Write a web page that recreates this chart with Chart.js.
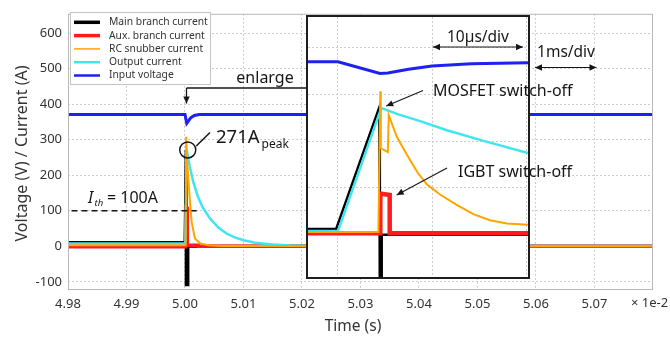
<!DOCTYPE html>
<html>
<head>
<meta charset="utf-8">
<script src="https://cdn.jsdelivr.net/npm/chart.js@4.4.1/dist/chart.umd.min.js"></script>
<style>
  html, body { margin: 0; padding: 0; background: #fff; }
  #wrap { position: relative; width: 670px; height: 337px; }
  #wrap canvas { position: absolute; left: 0; top: 0; }
</style>
</head>
<body>
<div id="wrap">
  <canvas id="mainChart" width="670" height="337"></canvas>
  <canvas id="zoomChart" width="670" height="337"></canvas>
</div>
<script>
// ---- main view: time axis in units of 1e-2 s ----
const mainTicksX = [4.98, 4.99, 5.00, 5.01, 5.02, 5.03, 5.04, 5.05, 5.06, 5.07];
const mainTicksY = [-100, 0, 100, 200, 300, 400, 500, 600];

const mainBlackT = [4.98, 5.0000, 5.0002, 5.0002, 5.0005, 5.0005, 5.08];
const mainBlackA = [11, 11, 271, -108, -108, 0, 0];

const mainRedT = [4.98, 5.0001, 5.0002, 5.0004, 5.0004, 5.0023, 5.0023, 5.08];
const mainRedA = [-1, -1, 110, 108, 3, 3, 0, 0];

const mainOrangeT = [4.98, 5.0001, 5.0002, 5.0004, 5.00074, 5.00114, 5.0017, 5.0026, 5.004, 5.006, 5.08];
const mainOrangeA = [3, 3, 308, 230, 150, 68, 22, 8, 3, 1, 1];

const mainCyanT = [4.98, 5.00005, 5.0003, 5.0008, 5.0014, 5.0022, 5.0030, 5.0043, 5.0057, 5.0071, 5.0085, 5.0100, 5.0120, 5.0150, 5.0180, 5.0210, 5.08];
const mainCyanA = [8, 8, 271, 225, 182, 140, 110, 78, 53, 36, 25, 17, 10, 5, 2, 1, 1];

const mainBlueT = [4.98, 5.0000, 5.0003, 5.0006, 5.0010, 5.0016, 5.0024, 5.08];
const mainBlueA = [371, 371, 346, 353, 362, 368, 371, 371];

// ---- enlarged view: time axis in microseconds ----
const zoomTicksX = [10, 20, 30];
const zoomTicksY = [0, 100, 200, 300, 400];

const zoomBlackT = [6.81, 9.8, 14.4, 14.45, 14.65, 14.65, 30.21];
const zoomBlackA = [12, 12, 273, -150, -150, 0, 0];

const zoomRedT = [6.81, 14.5, 14.5, 15.5, 15.5, 30.21];
const zoomRedA = [3, 3, 88, 85, 3, 3];

const zoomOrangeT = [6.81, 14.3, 14.5, 14.55, 15.3, 15.4, 16.24, 17.0, 17.66, 18.5, 19.44, 20.85, 22.63, 24.39, 26.17, 27.95, 30.21];
const zoomOrangeA = [6, 6, 307, 185, 177, 256, 210, 183, 160, 132, 108, 86, 64, 44, 31, 24, 21];

const zoomCyanT = [6.81, 10.0, 14.6, 16.5, 18.9, 21.5, 25.1, 30.21];
const zoomCyanA = [8, 8, 271, 257, 242, 224, 203, 175];

const zoomBlueT = [6.81, 10.0, 14.47, 15.3, 17.5, 20.0, 24.2, 30.21];
const zoomBlueA = [370, 370, 345, 346, 354, 361, 366, 368];

const labels = ['Main branch current', 'Aux. branch current', 'RC snubber current', 'Output current', 'Input voltage'];

const FONT = '"Noto Sans", "DejaVu Sans", sans-serif';
const TXT = '#333';
const INK = '#161616';
const GRID = '#cdcdcd';
const C_BLACK = '#000000', C_RED = '#ff1c1c', C_ORANGE = '#ffa500', C_CYAN = '#3fe6f0', C_BLUE = '#1e22f0';

Chart.defaults.font.family = FONT;

const toXY = (ts, vs) => ts.map((t, i) => ({ x: t, y: vs[i] }));
const series = (label, color, width, order, ts, vs) => ({
  label, data: toXY(ts, vs), borderColor: color, backgroundColor: color,
  borderWidth: width, order, pointRadius: 0, tension: 0, fill: false
});

function arrowHead(ctx, x1, y1, x2, y2, len, half) {
  const a = Math.atan2(y2 - y1, x2 - x1);
  ctx.beginPath();
  ctx.moveTo(x2, y2);
  ctx.lineTo(x2 - len * Math.cos(a) + half * Math.sin(a), y2 - len * Math.sin(a) - half * Math.cos(a));
  ctx.lineTo(x2 - len * Math.cos(a) - half * Math.sin(a), y2 - len * Math.sin(a) + half * Math.cos(a));
  ctx.closePath();
  ctx.fill();
}
function arrow(ctx, x1, y1, x2, y2, both) {
  ctx.beginPath(); ctx.moveTo(x1, y1); ctx.lineTo(x2, y2); ctx.stroke();
  arrowHead(ctx, x1, y1, x2, y2, 7, 3.2);
  if (both) arrowHead(ctx, x2, y2, x1, y1, 7, 3.2);
}

// main chart decorations: frame, legend, axis titles, threshold, peak marker
const mainDeco = {
  id: 'mainDeco',
  afterDraw(chart) {
    const { ctx, chartArea: a, scales: { x, y } } = chart;
    ctx.save();
    ctx.strokeStyle = '#b8b8b8'; ctx.lineWidth = 1;
    ctx.strokeRect(a.left + 0.5, a.top + 0.5, a.right - a.left - 1, a.bottom - a.top);

    // legend
    ctx.fillStyle = '#fff'; ctx.fillRect(70.5, 12.5, 140, 72);
    ctx.strokeStyle = '#c4c4c4'; ctx.strokeRect(70.5, 12.5, 140, 72);
    const lw = [3.5, 3.5, 1.5, 2.5, 2.5];
    ctx.font = '10.3px ' + FONT; ctx.textBaseline = 'middle'; ctx.textAlign = 'left';
    chart.data.datasets.forEach((ds, i) => {
      const yy = 22.3 + i * 13.3;
      ctx.strokeStyle = ds.borderColor; ctx.lineWidth = lw[i];
      ctx.beginPath(); ctx.moveTo(74, yy); ctx.lineTo(100, yy); ctx.stroke();
      ctx.fillStyle = TXT; ctx.fillText(ds.label, 109, yy);
    });

    // axis titles
    ctx.fillStyle = TXT;
    ctx.font = '15.5px ' + FONT; ctx.textAlign = 'center'; ctx.textBaseline = 'middle';
    ctx.fillText('Time (s)', 353, 327);
    ctx.font = '13px ' + FONT; ctx.textAlign = 'left';
    ctx.fillText('\u00d7 1e-2', 631, 303);
    ctx.save();
    ctx.translate(27, 153.5); ctx.rotate(-Math.PI / 2);
    ctx.font = '16px ' + FONT; ctx.textAlign = 'center'; ctx.textBaseline = 'alphabetic';
    ctx.fillText('Voltage (V) / Current (A)', 0, 0);
    ctx.restore();

    // threshold line
    ctx.strokeStyle = INK; ctx.lineWidth = 1.5; ctx.setLineDash([6, 4]);
    ctx.beginPath(); ctx.moveTo(x.getPixelForValue(4.9806), y.getPixelForValue(100));
    ctx.lineTo(x.getPixelForValue(5.0020), y.getPixelForValue(100)); ctx.stroke();
    ctx.setLineDash([]);
    ctx.fillStyle = INK; ctx.textAlign = 'left'; ctx.textBaseline = 'alphabetic';
    ctx.font = 'italic 16px ' + FONT; ctx.fillText('I', 88, 203);
    ctx.font = 'italic 9.5px ' + FONT; ctx.fillText('th', 94.5, 206);
    ctx.font = '16px ' + FONT; ctx.fillText('= 100A', 107, 203);

    // peak marker
    const px = x.getPixelForValue(5.0003) + 1, py = y.getPixelForValue(271);
    ctx.lineWidth = 1.5; ctx.strokeStyle = INK;
    ctx.beginPath(); ctx.arc(px, py, 8, 0, Math.PI * 2); ctx.stroke();
    ctx.beginPath(); ctx.moveTo(px + 8.5, py - 4); ctx.lineTo(210, 132.5); ctx.stroke();
    ctx.font = '18.5px ' + FONT; ctx.fillText('271A', 216, 143);
    const w = ctx.measureText('271A').width;
    ctx.font = '12px ' + FONT; ctx.fillText('peak', 216 + w + 2, 148);
    ctx.restore();
  }
};

const mainChart = new Chart(document.getElementById('mainChart'), {
  type: 'line',
  data: {
    datasets: [
      series(labels[0], C_BLACK, 3, 3, mainBlackT, mainBlackA),
      series(labels[1], C_RED, 3.5, 2, mainRedT, mainRedA),
      series(labels[2], C_ORANGE, 2, 0, mainOrangeT, mainOrangeA),
      series(labels[3], C_CYAN, 2.5, 1, mainCyanT, mainCyanA),
      series(labels[4], C_BLUE, 3, 4, mainBlueT, mainBlueA)
    ]
  },
  options: {
    responsive: false,
    animation: false,
    events: [],
    layout: { padding: { top: 8, right: 17, left: 0, bottom: 0 } },
    plugins: { legend: { display: false }, tooltip: { enabled: false } },
    scales: {
      x: {
        type: 'linear', min: 4.98, max: 5.08,
        afterBuildTicks: s => { s.ticks = mainTicksX.map(v => ({ value: v })); },
        afterFit: s => { s.height = 48; },
        grid: { color: GRID, drawTicks: false },
        border: { display: false, dash: [2, 2] },
        ticks: { padding: 7, color: TXT, font: { size: 13 }, maxRotation: 0, autoSkip: false,
                 callback: v => v.toFixed(2) }
      },
      y: {
        type: 'linear', min: -120, max: 654,
        afterBuildTicks: s => { s.ticks = mainTicksY.map(v => ({ value: v })); },
        afterFit: s => { s.width = 68; },
        grid: { color: GRID, drawTicks: false },
        border: { display: false, dash: [2, 2] },
        ticks: { padding: 6, color: TXT, font: { size: 13 } }
      }
    }
  },
  plugins: [mainDeco]
});

// enlarged view drawn on an overlay canvas, plus the callouts that sit over it
const zoomDeco = {
  id: 'zoomDeco',
  beforeDraw(chart) {
    const { ctx, chartArea: a } = chart;
    ctx.save(); ctx.fillStyle = '#fff';
    ctx.fillRect(a.left, a.top, a.right - a.left, a.bottom - a.top);
    ctx.restore();
  },
  afterDraw(chart) {
    const { ctx, chartArea: a, scales: { x, y } } = chart;
    const mx = mainChart.scales.x;
    ctx.save();
    ctx.strokeStyle = '#1e1e1e'; ctx.lineWidth = 2;
    ctx.strokeRect(a.left - 1, a.top - 1, a.right - a.left + 2, a.bottom - a.top + 2);

    ctx.strokeStyle = INK; ctx.fillStyle = INK; ctx.lineWidth = 1.3;
    // enlarge callout
    const ex = Math.round(mx.getPixelForValue(5.0002)) + 0.5;
    ctx.beginPath(); ctx.moveTo(a.left - 1, 88); ctx.lineTo(ex, 88); ctx.stroke();
    arrow(ctx, ex, 88, ex, 103.5, false);
    ctx.font = '16px ' + FONT; ctx.textAlign = 'center'; ctx.textBaseline = 'alphabetic';
    ctx.fillText('enlarge', 265, 83);

    // MOSFET / IGBT callouts
    ctx.lineWidth = 1.1;
    arrow(ctx, 423, 90.5, x.getPixelForValue(14.6) + 5, y.getPixelForValue(271) - 2, false);
    arrow(ctx, 447, 168, x.getPixelForValue(15.5) + 7, y.getPixelForValue(85), false);
    ctx.textAlign = 'left';
    ctx.font = '16px ' + FONT;
    ctx.fillText('MOSFET switch-off', 433, 96);
    ctx.fillText('IGBT switch-off', 458, 177);

    // scale markers
    ctx.font = '15.5px ' + FONT; ctx.textAlign = 'center';
    ctx.fillText('10\u00b5s/div', 478, 41.5);
    arrow(ctx, x.getPixelForValue(20) + 1, 47, x.getPixelForValue(30) - 3, 47, true);
    ctx.fillText('1ms/div', 566, 57);
    arrow(ctx, mx.getPixelForValue(5.06) - 1, 67.5, mx.getPixelForValue(5.07) + 2, 67.5, true);
    ctx.restore();
  }
};

const zoomGrid = {
  display: true,
  grid: { color: GRID, drawTicks: false },
  border: { display: false, dash: [2, 2] },
  ticks: { display: false }
};

new Chart(document.getElementById('zoomChart'), {
  type: 'line',
  data: {
    datasets: [
      series(labels[0], C_BLACK, 2.5, 3, zoomBlackT, zoomBlackA),
      series(labels[1], C_RED, 4.5, 2, zoomRedT, zoomRedA),
      series(labels[2], C_ORANGE, 2, 0, zoomOrangeT, zoomOrangeA),
      series(labels[3], C_CYAN, 2.5, 1, zoomCyanT, zoomCyanA),
      series(labels[4], C_BLUE, 3, 4, zoomBlueT, zoomBlueA)
    ]
  },
  options: {
    responsive: false,
    animation: false,
    events: [],
    layout: { padding: { left: 308, top: 17, right: 142, bottom: 60 } },
    plugins: { legend: { display: false }, tooltip: { enabled: false } },
    scales: {
      x: Object.assign({ type: 'linear', min: 6.81, max: 30.21,
        afterBuildTicks: s => { s.ticks = zoomTicksX.map(v => ({ value: v })); } }, zoomGrid),
      y: Object.assign({ type: 'linear', min: -90.6, max: 466,
        afterBuildTicks: s => { s.ticks = zoomTicksY.map(v => ({ value: v })); } }, zoomGrid)
    }
  },
  plugins: [zoomDeco]
});
</script>
</body>
</html>
